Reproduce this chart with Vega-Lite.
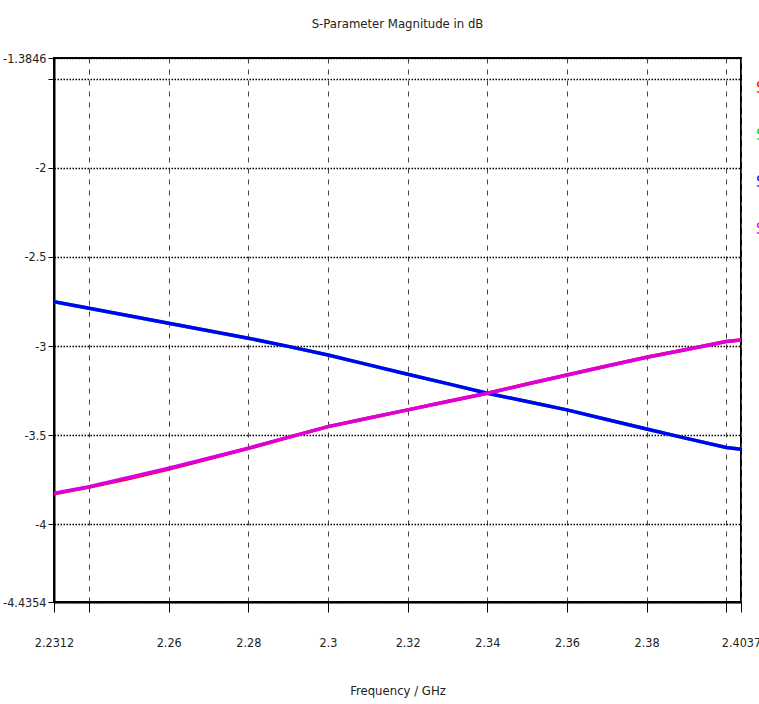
{
  "$schema": "https://vega.github.io/schema/vega-lite/v6.json",
  "autosize": {"type": "none"},
  "width": 687,
  "height": 544,
  "padding": {"left": 54, "top": 58, "right": 18, "bottom": 102},
  "background": "white",
  "title": {
    "text": "S-Parameter Magnitude in dB",
    "font": "DejaVu Sans Condensed",
    "fontSize": 13,
    "fontWeight": "normal",
    "color": "#222222",
    "anchor": "middle",
    "offset": 21
  },
  "config": {
    "view": {"stroke": "#000000", "strokeWidth": 2},
    "font": "DejaVu Sans Condensed",
    "axis": {
      "labelFont": "DejaVu Sans Condensed",
      "titleFont": "DejaVu Sans Condensed",
      "labelFontSize": 12.5,
      "titleFontSize": 13,
      "titleFontWeight": "normal",
      "labelColor": "#222222",
      "titleColor": "#222222",
      "domainColor": "#000000",
      "domainWidth": 2,
      "tickColor": "#000000"
    }
  },
  "data": {
    "values": [
      {"f": 2.2312, "s": "S1,1", "v": -3.828},
      {"f": 2.24, "s": "S1,1", "v": -3.791},
      {"f": 2.25, "s": "S1,1", "v": -3.743},
      {"f": 2.26, "s": "S1,1", "v": -3.690},
      {"f": 2.27, "s": "S1,1", "v": -3.632},
      {"f": 2.28, "s": "S1,1", "v": -3.574},
      {"f": 2.29, "s": "S1,1", "v": -3.512},
      {"f": 2.3, "s": "S1,1", "v": -3.452},
      {"f": 2.31, "s": "S1,1", "v": -3.405},
      {"f": 2.32, "s": "S1,1", "v": -3.358},
      {"f": 2.33, "s": "S1,1", "v": -3.311},
      {"f": 2.34, "s": "S1,1", "v": -3.265},
      {"f": 2.35, "s": "S1,1", "v": -3.213},
      {"f": 2.36, "s": "S1,1", "v": -3.162},
      {"f": 2.37, "s": "S1,1", "v": -3.112},
      {"f": 2.38, "s": "S1,1", "v": -3.063},
      {"f": 2.39, "s": "S1,1", "v": -3.019},
      {"f": 2.4, "s": "S1,1", "v": -2.975},
      {"f": 2.4037, "s": "S1,1", "v": -2.966},
      {"f": 2.2312, "s": "S2,1", "v": -2.751},
      {"f": 2.24, "s": "S2,1", "v": -2.788},
      {"f": 2.25, "s": "S2,1", "v": -2.830},
      {"f": 2.26, "s": "S2,1", "v": -2.872},
      {"f": 2.27, "s": "S2,1", "v": -2.914},
      {"f": 2.28, "s": "S2,1", "v": -2.956},
      {"f": 2.29, "s": "S2,1", "v": -3.002},
      {"f": 2.3, "s": "S2,1", "v": -3.050},
      {"f": 2.31, "s": "S2,1", "v": -3.104},
      {"f": 2.32, "s": "S2,1", "v": -3.158},
      {"f": 2.33, "s": "S2,1", "v": -3.211},
      {"f": 2.34, "s": "S2,1", "v": -3.265},
      {"f": 2.35, "s": "S2,1", "v": -3.311},
      {"f": 2.36, "s": "S2,1", "v": -3.358},
      {"f": 2.37, "s": "S2,1", "v": -3.412},
      {"f": 2.38, "s": "S2,1", "v": -3.465},
      {"f": 2.39, "s": "S2,1", "v": -3.518},
      {"f": 2.4, "s": "S2,1", "v": -3.569},
      {"f": 2.4037, "s": "S2,1", "v": -3.579},
      {"f": 2.2312, "s": "S1,2", "v": -2.751},
      {"f": 2.24, "s": "S1,2", "v": -2.788},
      {"f": 2.25, "s": "S1,2", "v": -2.830},
      {"f": 2.26, "s": "S1,2", "v": -2.872},
      {"f": 2.27, "s": "S1,2", "v": -2.914},
      {"f": 2.28, "s": "S1,2", "v": -2.956},
      {"f": 2.29, "s": "S1,2", "v": -3.002},
      {"f": 2.3, "s": "S1,2", "v": -3.050},
      {"f": 2.31, "s": "S1,2", "v": -3.104},
      {"f": 2.32, "s": "S1,2", "v": -3.158},
      {"f": 2.33, "s": "S1,2", "v": -3.211},
      {"f": 2.34, "s": "S1,2", "v": -3.265},
      {"f": 2.35, "s": "S1,2", "v": -3.311},
      {"f": 2.36, "s": "S1,2", "v": -3.358},
      {"f": 2.37, "s": "S1,2", "v": -3.412},
      {"f": 2.38, "s": "S1,2", "v": -3.465},
      {"f": 2.39, "s": "S1,2", "v": -3.518},
      {"f": 2.4, "s": "S1,2", "v": -3.569},
      {"f": 2.4037, "s": "S1,2", "v": -3.579},
      {"f": 2.2312, "s": "S2,2", "v": -3.826},
      {"f": 2.24, "s": "S2,2", "v": -3.789},
      {"f": 2.25, "s": "S2,2", "v": -3.737},
      {"f": 2.26, "s": "S2,2", "v": -3.685},
      {"f": 2.27, "s": "S2,2", "v": -3.629},
      {"f": 2.28, "s": "S2,2", "v": -3.573},
      {"f": 2.29, "s": "S2,2", "v": -3.512},
      {"f": 2.3, "s": "S2,2", "v": -3.452},
      {"f": 2.31, "s": "S2,2", "v": -3.405},
      {"f": 2.32, "s": "S2,2", "v": -3.358},
      {"f": 2.33, "s": "S2,2", "v": -3.311},
      {"f": 2.34, "s": "S2,2", "v": -3.265},
      {"f": 2.35, "s": "S2,2", "v": -3.213},
      {"f": 2.36, "s": "S2,2", "v": -3.162},
      {"f": 2.37, "s": "S2,2", "v": -3.112},
      {"f": 2.38, "s": "S2,2", "v": -3.063},
      {"f": 2.39, "s": "S2,2", "v": -3.019},
      {"f": 2.4, "s": "S2,2", "v": -2.975},
      {"f": 2.4037, "s": "S2,2", "v": -2.966}
    ]
  },
  "mark": {"type": "line", "strokeWidth": 3.5, "clip": true},
  "encoding": {
    "x": {
      "field": "f",
      "type": "quantitative",
      "scale": {"domain": [2.2312, 2.4037], "nice": false, "zero": false},
      "axis": {
        "title": "Frequency / GHz",
        "titlePadding": 36,
        "values": [2.2312, 2.24, 2.26, 2.28, 2.3, 2.32, 2.34, 2.36, 2.38, 2.4, 2.4037],
        "labelExpr": "(abs(datum.value - 2.24) < 0.0001 || abs(datum.value - 2.4) < 0.0001) ? '' : toString(datum.value)",
        "labelOverlap": false,
        "labelFlush": false,
        "labelPadding": 24,
        "tickSize": 10,
        "grid": true,
        "gridColor": "#444444",
        "gridDash": [5, 6],
        "gridWidth": 1
      }
    },
    "y": {
      "field": "v",
      "type": "quantitative",
      "scale": {"domain": [-4.4354, -1.3846], "nice": false, "zero": false},
      "axis": {
        "title": null,
        "values": [-1.3846, -1.5, -2, -2.5, -3, -3.5, -4, -4.4354],
        "labelExpr": "abs(datum.value + 1.5) < 0.0001 ? '' : toString(datum.value)",
        "labelOverlap": false,
        "labelFlush": false,
        "labelPadding": 2,
        "tickSize": 6,
        "grid": true,
        "gridColor": "#000000",
        "gridDash": [1.5, 1.5],
        "gridWidth": 1.5
      }
    },
    "color": {
      "field": "s",
      "type": "nominal",
      "sort": ["S1,1", "S2,1", "S1,2", "S2,2"],
      "scale": {"domain": ["S1,1", "S2,1", "S1,2", "S2,2"], "range": ["#ff0000", "#00dd00", "#0000ff", "#dd00dd"]},
      "legend": {
        "title": null,
        "orient": "none",
        "legendX": 686,
        "legendY": 22,
        "symbolOpacity": 0,
        "symbolSize": 1,
        "symbolStrokeWidth": 0,
        "labelFontSize": 16,
        "labelFont": "DejaVu Sans Condensed",
        "labelColor": {"expr": "scale('color', datum.value)"},
        "rowPadding": 31,
        "symbolOffset": 0,
        "labelOffset": 0
      }
    },
    "order": {"field": "s", "sort": "ascending"}
  }
}
